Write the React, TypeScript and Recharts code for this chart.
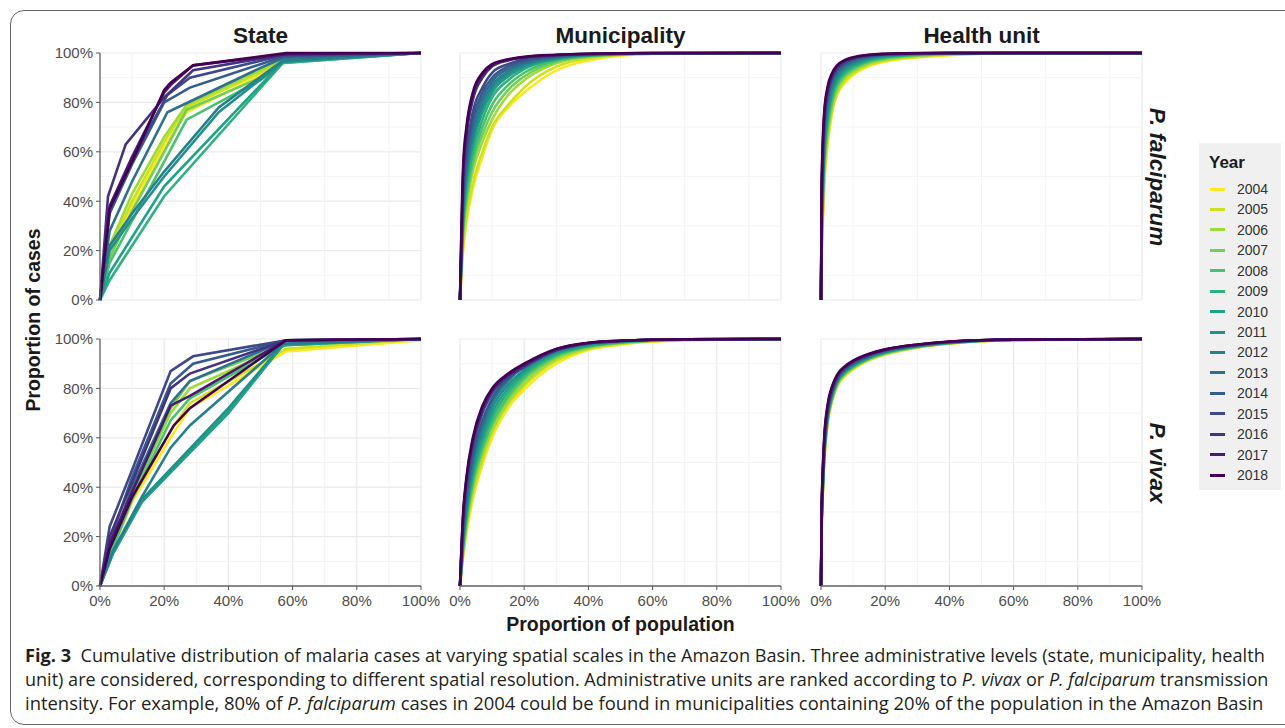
import React, { useLayoutEffect, useRef, useState } from "react"
import { LineChart, Line, XAxis, YAxis, CartesianGrid, ReferenceLine } from "recharts"

const years = [2004, 2005, 2006, 2007, 2008, 2009, 2010, 2011, 2012, 2013, 2014, 2015, 2016, 2017, 2018]
// viridis(15), reversed so 2004 is yellow
const yearColors = [
  "#FDE725", "#CFE11C", "#9FDA3A", "#71CF57", "#4AC16D", "#2DB27D", "#1FA187", "#21908C",
  "#277F8E", "#2E6E8E", "#365C8D", "#3F4889", "#46337E", "#481B6D", "#440154",
]

const majorTicks = [0, 0.2, 0.4, 0.6, 0.8, 1]
const minorTicks = [0.1, 0.3, 0.5, 0.7, 0.9]

type Pair = [number, number]

// State level: one list of (population share, case share) per year
const stateFalciparum: Pair[][] = [
  [[0, 0], [0.03, 0.18], [0.1, 0.38], [0.2, 0.62], [0.27, 0.76], [0.5, 0.91], [0.57, 0.97], [1, 1]],
  [[0, 0], [0.03, 0.2], [0.1, 0.4], [0.2, 0.64], [0.27, 0.78], [0.5, 0.92], [0.57, 0.97], [1, 1]],
  [[0, 0], [0.03, 0.22], [0.1, 0.43], [0.2, 0.66], [0.27, 0.79], [0.5, 0.93], [0.57, 0.975], [1, 1]],
  [[0, 0], [0.03, 0.17], [0.1, 0.36], [0.2, 0.6], [0.27, 0.77], [0.5, 0.9], [0.57, 0.97], [1, 1]],
  [[0, 0], [0.03, 0.15], [0.1, 0.32], [0.2, 0.56], [0.27, 0.73], [0.5, 0.89], [0.57, 0.96], [1, 1]],
  [[0, 0], [0.03, 0.08], [0.2, 0.42], [0.57, 0.96], [1, 1]],
  [[0, 0], [0.03, 0.11], [0.2, 0.46], [0.57, 0.965], [1, 1]],
  [[0, 0], [0.03, 0.2], [0.1, 0.33], [0.2, 0.5], [0.37, 0.76], [0.57, 0.965], [1, 1]],
  [[0, 0], [0.03, 0.22], [0.1, 0.35], [0.2, 0.52], [0.37, 0.78], [0.57, 0.97], [1, 1]],
  [[0, 0], [0.03, 0.28], [0.1, 0.48], [0.21, 0.76], [0.5, 0.94], [0.57, 0.98], [1, 1]],
  [[0, 0], [0.03, 0.35], [0.1, 0.55], [0.2, 0.8], [0.28, 0.86], [0.57, 0.985], [1, 1]],
  [[0, 0], [0.03, 0.36], [0.1, 0.57], [0.21, 0.83], [0.28, 0.9], [0.57, 0.99], [1, 1]],
  [[0, 0], [0.025, 0.42], [0.08, 0.63], [0.2, 0.82], [0.29, 0.93], [0.58, 0.995], [1, 1]],
  [[0, 0], [0.03, 0.38], [0.1, 0.58], [0.2, 0.84], [0.22, 0.87], [0.29, 0.95], [0.58, 0.995], [1, 1]],
  [[0, 0], [0.03, 0.37], [0.1, 0.56], [0.2, 0.85], [0.22, 0.88], [0.29, 0.95], [0.58, 1], [1, 1]],
]

const stateVivax: Pair[][] = [
  [[0, 0], [0.03, 0.12], [0.1, 0.34], [0.22, 0.6], [0.28, 0.72], [0.58, 0.95], [1, 0.995]],
  [[0, 0], [0.03, 0.12], [0.1, 0.35], [0.22, 0.63], [0.28, 0.74], [0.58, 0.96], [1, 1]],
  [[0, 0], [0.03, 0.13], [0.1, 0.37], [0.22, 0.7], [0.28, 0.8], [0.58, 0.975], [1, 1]],
  [[0, 0], [0.03, 0.13], [0.1, 0.36], [0.22, 0.72], [0.28, 0.83], [0.58, 0.98], [1, 1]],
  [[0, 0], [0.03, 0.12], [0.1, 0.35], [0.22, 0.67], [0.28, 0.76], [0.58, 0.98], [1, 1]],
  [[0, 0], [0.04, 0.13], [0.13, 0.34], [0.4, 0.71], [0.57, 0.975], [1, 1]],
  [[0, 0], [0.04, 0.13], [0.13, 0.34], [0.4, 0.7], [0.57, 0.975], [1, 1]],
  [[0, 0], [0.04, 0.14], [0.13, 0.35], [0.4, 0.72], [0.57, 0.98], [1, 1]],
  [[0, 0], [0.04, 0.14], [0.13, 0.36], [0.22, 0.56], [0.28, 0.65], [0.57, 0.98], [1, 1]],
  [[0, 0], [0.03, 0.15], [0.1, 0.4], [0.22, 0.74], [0.28, 0.83], [0.57, 0.99], [1, 1]],
  [[0, 0], [0.03, 0.18], [0.1, 0.44], [0.22, 0.82], [0.29, 0.9], [0.58, 0.995], [1, 1]],
  [[0, 0], [0.03, 0.24], [0.1, 0.47], [0.22, 0.87], [0.29, 0.93], [0.58, 0.995], [1, 1]],
  [[0, 0], [0.03, 0.2], [0.1, 0.42], [0.22, 0.8], [0.28, 0.86], [0.58, 0.995], [1, 1]],
  [[0, 0], [0.03, 0.17], [0.1, 0.38], [0.22, 0.73], [0.28, 0.77], [0.58, 0.995], [1, 1]],
  [[0, 0], [0.03, 0.15], [0.1, 0.36], [0.23, 0.65], [0.28, 0.72], [0.58, 0.995], [1, 1]],
]

// Municipality level: shared population shares, case shares per year
const munFalciparumX = [0, 0.01, 0.02, 0.04, 0.07, 0.1, 0.15, 0.2, 0.3, 0.4, 0.6, 1]
const munFalciparumY = [
  [0, 0.2, 0.31, 0.45, 0.58, 0.69, 0.78, 0.84, 0.93, 0.97, 0.996, 1],
  [0, 0.22, 0.33, 0.47, 0.6, 0.7, 0.79, 0.86, 0.945, 0.978, 0.997, 1],
  [0, 0.26, 0.38, 0.52, 0.64, 0.73, 0.83, 0.89, 0.958, 0.984, 0.997, 1],
  [0, 0.28, 0.4, 0.55, 0.67, 0.76, 0.85, 0.905, 0.965, 0.986, 0.998, 1],
  [0, 0.3, 0.42, 0.57, 0.7, 0.79, 0.87, 0.92, 0.97, 0.988, 0.998, 1],
  [0, 0.32, 0.45, 0.6, 0.73, 0.82, 0.89, 0.935, 0.974, 0.99, 0.998, 1],
  [0, 0.34, 0.48, 0.63, 0.76, 0.84, 0.905, 0.942, 0.977, 0.991, 0.998, 1],
  [0, 0.36, 0.5, 0.65, 0.78, 0.855, 0.915, 0.948, 0.98, 0.992, 0.999, 1],
  [0, 0.38, 0.52, 0.67, 0.8, 0.87, 0.925, 0.955, 0.982, 0.993, 0.999, 1],
  [0, 0.4, 0.54, 0.7, 0.82, 0.885, 0.935, 0.96, 0.985, 0.994, 0.999, 1],
  [0, 0.42, 0.57, 0.73, 0.84, 0.9, 0.945, 0.968, 0.988, 0.995, 0.999, 1],
  [0, 0.45, 0.6, 0.76, 0.86, 0.92, 0.955, 0.975, 0.99, 0.995, 0.999, 1],
  [0, 0.5, 0.66, 0.81, 0.9, 0.945, 0.97, 0.982, 0.992, 0.996, 1, 1],
  [0, 0.52, 0.68, 0.83, 0.91, 0.95, 0.972, 0.983, 0.992, 0.997, 1, 1],
  [0, 0.55, 0.7, 0.84, 0.92, 0.955, 0.975, 0.985, 0.993, 0.997, 1, 1],
]

const munVivaxX = [0, 0.01, 0.02, 0.04, 0.07, 0.1, 0.15, 0.2, 0.3, 0.4, 0.5, 0.7, 1]
const munVivaxY = [
  [0, 0.12, 0.21, 0.35, 0.49, 0.6, 0.72, 0.795, 0.9, 0.955, 0.977, 0.995, 1],
  [0, 0.13, 0.23, 0.37, 0.51, 0.62, 0.735, 0.81, 0.912, 0.96, 0.98, 0.996, 1],
  [0, 0.14, 0.24, 0.39, 0.53, 0.63, 0.745, 0.82, 0.92, 0.963, 0.983, 0.997, 1],
  [0, 0.15, 0.26, 0.41, 0.55, 0.65, 0.76, 0.835, 0.927, 0.967, 0.985, 0.997, 1],
  [0, 0.16, 0.27, 0.42, 0.56, 0.66, 0.77, 0.845, 0.932, 0.97, 0.986, 0.997, 1],
  [0, 0.17, 0.28, 0.44, 0.58, 0.68, 0.785, 0.855, 0.937, 0.972, 0.987, 0.998, 1],
  [0, 0.18, 0.3, 0.46, 0.6, 0.7, 0.8, 0.865, 0.942, 0.975, 0.989, 0.998, 1],
  [0, 0.19, 0.31, 0.48, 0.62, 0.72, 0.815, 0.875, 0.948, 0.978, 0.99, 0.998, 1],
  [0, 0.2, 0.33, 0.5, 0.64, 0.74, 0.83, 0.89, 0.955, 0.982, 0.992, 0.999, 1],
  [0, 0.22, 0.35, 0.52, 0.66, 0.755, 0.84, 0.895, 0.96, 0.984, 0.993, 0.999, 1],
  [0, 0.24, 0.37, 0.53, 0.67, 0.76, 0.84, 0.885, 0.952, 0.982, 0.992, 0.999, 1],
  [0, 0.26, 0.4, 0.56, 0.7, 0.78, 0.845, 0.89, 0.955, 0.983, 0.992, 0.999, 1],
  [0, 0.28, 0.42, 0.58, 0.71, 0.79, 0.85, 0.89, 0.955, 0.983, 0.992, 0.999, 1],
  [0, 0.29, 0.43, 0.59, 0.72, 0.795, 0.855, 0.895, 0.958, 0.984, 0.993, 0.999, 1],
  [0, 0.3, 0.44, 0.6, 0.73, 0.8, 0.86, 0.9, 0.96, 0.985, 0.993, 0.999, 1],
]

// Health unit level
const huFalciparumX = [0, 0.002, 0.005, 0.01, 0.02, 0.035, 0.05, 0.075, 0.1, 0.15, 0.2, 0.3, 0.4, 0.6, 1]
const huFalciparumY = [
  [0, 0.15, 0.29, 0.46, 0.62, 0.76, 0.83, 0.88, 0.91, 0.947, 0.965, 0.982, 0.991, 0.999, 1],
  [0, 0.17, 0.31, 0.48, 0.64, 0.77, 0.835, 0.89, 0.917, 0.952, 0.969, 0.985, 0.993, 0.999, 1],
  [0, 0.19, 0.34, 0.51, 0.66, 0.79, 0.85, 0.9, 0.925, 0.958, 0.974, 0.988, 0.995, 0.999, 1],
  [0, 0.21, 0.36, 0.53, 0.68, 0.8, 0.86, 0.907, 0.932, 0.962, 0.977, 0.99, 0.996, 0.999, 1],
  [0, 0.23, 0.39, 0.56, 0.7, 0.815, 0.87, 0.915, 0.938, 0.967, 0.98, 0.992, 0.997, 1, 1],
  [0, 0.25, 0.41, 0.58, 0.72, 0.83, 0.88, 0.922, 0.944, 0.971, 0.983, 0.994, 0.998, 1, 1],
  [0, 0.27, 0.43, 0.6, 0.74, 0.84, 0.89, 0.93, 0.95, 0.975, 0.986, 0.995, 0.998, 1, 1],
  [0, 0.29, 0.46, 0.63, 0.76, 0.855, 0.9, 0.938, 0.957, 0.979, 0.989, 0.996, 0.999, 1, 1],
  [0, 0.31, 0.48, 0.65, 0.78, 0.87, 0.91, 0.945, 0.963, 0.982, 0.991, 0.997, 0.999, 1, 1],
  [0, 0.33, 0.5, 0.67, 0.8, 0.88, 0.92, 0.952, 0.968, 0.985, 0.993, 0.998, 1, 1, 1],
  [0, 0.35, 0.52, 0.69, 0.81, 0.89, 0.928, 0.958, 0.972, 0.987, 0.994, 0.998, 1, 1, 1],
  [0, 0.37, 0.55, 0.71, 0.83, 0.9, 0.935, 0.962, 0.976, 0.989, 0.995, 0.999, 1, 1, 1],
  [0, 0.4, 0.58, 0.73, 0.84, 0.905, 0.94, 0.966, 0.979, 0.991, 0.996, 0.999, 1, 1, 1],
  [0, 0.42, 0.6, 0.75, 0.85, 0.915, 0.945, 0.97, 0.981, 0.992, 0.996, 0.999, 1, 1, 1],
  [0, 0.45, 0.62, 0.76, 0.86, 0.92, 0.95, 0.972, 0.983, 0.993, 0.997, 1, 1, 1, 1],
]

const huVivaxX = [0, 0.002, 0.005, 0.01, 0.02, 0.035, 0.05, 0.075, 0.1, 0.15, 0.2, 0.3, 0.4, 0.6, 1]
const huVivaxY = [
  [0, 0.22, 0.35, 0.5, 0.65, 0.75, 0.807, 0.85, 0.877, 0.914, 0.937, 0.965, 0.981, 0.996, 1],
  [0, 0.22, 0.35, 0.5, 0.655, 0.752, 0.81, 0.853, 0.88, 0.916, 0.938, 0.966, 0.982, 0.996, 1],
  [0, 0.23, 0.36, 0.51, 0.66, 0.757, 0.813, 0.857, 0.882, 0.918, 0.94, 0.967, 0.983, 0.996, 1],
  [0, 0.24, 0.37, 0.52, 0.665, 0.76, 0.817, 0.86, 0.885, 0.92, 0.942, 0.968, 0.983, 0.996, 1],
  [0, 0.24, 0.37, 0.52, 0.67, 0.765, 0.82, 0.862, 0.887, 0.921, 0.943, 0.969, 0.984, 0.996, 1],
  [0, 0.25, 0.38, 0.53, 0.675, 0.77, 0.823, 0.865, 0.89, 0.923, 0.945, 0.97, 0.984, 0.997, 1],
  [0, 0.25, 0.39, 0.54, 0.68, 0.775, 0.827, 0.868, 0.892, 0.925, 0.946, 0.971, 0.985, 0.997, 1],
  [0, 0.26, 0.39, 0.54, 0.685, 0.778, 0.83, 0.871, 0.895, 0.927, 0.948, 0.972, 0.986, 0.997, 1],
  [0, 0.26, 0.4, 0.55, 0.69, 0.783, 0.833, 0.874, 0.897, 0.929, 0.95, 0.973, 0.986, 0.997, 1],
  [0, 0.27, 0.41, 0.56, 0.7, 0.787, 0.837, 0.877, 0.9, 0.931, 0.951, 0.974, 0.987, 0.997, 1],
  [0, 0.27, 0.41, 0.56, 0.7, 0.79, 0.84, 0.88, 0.903, 0.933, 0.953, 0.975, 0.988, 0.997, 1],
  [0, 0.28, 0.42, 0.57, 0.71, 0.795, 0.843, 0.882, 0.905, 0.935, 0.955, 0.976, 0.988, 0.998, 1],
  [0, 0.28, 0.43, 0.58, 0.715, 0.8, 0.847, 0.885, 0.908, 0.937, 0.956, 0.977, 0.989, 0.998, 1],
  [0, 0.29, 0.44, 0.59, 0.72, 0.805, 0.85, 0.887, 0.91, 0.938, 0.957, 0.977, 0.989, 0.998, 1],
  [0, 0.3, 0.45, 0.6, 0.73, 0.81, 0.855, 0.89, 0.912, 0.94, 0.958, 0.978, 0.99, 0.998, 1],
]

type Pt = { x: number; y: number }
const fromPairs = (list: Pair[][]): Pt[][] => list.map((s) => s.map(([x, y]) => ({ x, y })))
const fromColumns = (xs: number[], ys: number[][]): Pt[][] => ys.map((row) => row.map((y, i) => ({ x: xs[i], y })))

const PLOT_W = 321
const PLOT_H = 247
const colX = [100, 460, 821]
const rowY = [53, 339]
const pct = (v: number) => `${Math.round(v * 100)}%`
const sans = "'Liberation Sans', Arial, Helvetica, sans-serif"
const tickStyle = { fill: "#4d4d4d", fontSize: 15, fontFamily: sans }

function Panel({ series, col, row, smooth }: { series: Pt[][]; col: number; row: number; smooth: boolean }) {
  const showY = col === 0
  const showX = row === 1
  const yW = showY ? 60 : 0
  const xH = showX ? 30 : 0
  const top = 12
  const bottom = showX ? 0 : 12
  const left = 24
  const right = 24
  return (
    <div style={{ position: "absolute", left: colX[col] - yW - left, top: rowY[row] - top }}>
      <LineChart
        width={left + yW + PLOT_W + right}
        height={top + PLOT_H + xH + bottom}
        margin={{ top, right, bottom, left }}
      >
        <CartesianGrid stroke="#e9e9e9" strokeWidth={1.2} />
        {minorTicks.map((t) => (
          <ReferenceLine key={`mx${t}`} x={t} stroke="#f2f2f2" strokeWidth={0.9} />
        ))}
        {minorTicks.map((t) => (
          <ReferenceLine key={`my${t}`} y={t} stroke="#f2f2f2" strokeWidth={0.9} />
        ))}
        <XAxis
          type="number"
          dataKey="x"
          domain={[0, 1]}
          ticks={majorTicks}
          tickFormatter={pct}
          height={xH}
          tick={showX ? tickStyle : false}
          tickLine={showX ? { stroke: "#555" } : false}
          tickSize={4}
          tickMargin={5}
          axisLine={{ stroke: "#666", strokeWidth: 1.3 }}
          interval={0}
        />
        <YAxis
          type="number"
          domain={[0, 1]}
          ticks={majorTicks}
          tickFormatter={pct}
          width={yW}
          tick={showY ? tickStyle : false}
          tickLine={showY ? { stroke: "#555" } : false}
          tickSize={4}
          tickMargin={3}
          axisLine={{ stroke: "#666", strokeWidth: 1.3 }}
          interval={0}
        />
        {series.map((pts, i) => (
          <Line
            key={years[i]}
            data={pts}
            dataKey="y"
            type={smooth ? "monotone" : "linear"}
            stroke={yearColors[i]}
            strokeWidth={2.6}
            dot={false}
            activeDot={false}
            isAnimationActive={false}
          />
        ))}
      </LineChart>
    </div>
  )
}

// one caption line, squeezed horizontally to the width it has in the figure
function CaptionLine({ top, width, children }: { top: number; width: number; children: React.ReactNode }) {
  const ref = useRef<HTMLDivElement>(null)
  const [scale, setScale] = useState(1)
  useLayoutEffect(() => {
    if (ref.current) setScale(width / ref.current.scrollWidth)
  }, [width])
  return (
    <div
      ref={ref}
      style={{
        position: "absolute",
        left: 25,
        top,
        whiteSpace: "nowrap",
        fontFamily: "'Open Sans', 'Noto Sans', sans-serif",
        fontSize: 18.5,
        lineHeight: "24px",
        color: "#231f20",
        transform: `scaleX(${scale})`,
        transformOrigin: "0 0",
      }}
    >
      {children}
    </div>
  )
}

const columnTitles = ["State", "Municipality", "Health unit"]
const rowTitles = ["P. falciparum", "P. vivax"]

export default function App() {
  const panels = [
    { series: fromPairs(stateFalciparum), col: 0, row: 0, smooth: false },
    { series: fromColumns(munFalciparumX, munFalciparumY), col: 1, row: 0, smooth: true },
    { series: fromColumns(huFalciparumX, huFalciparumY), col: 2, row: 0, smooth: true },
    { series: fromPairs(stateVivax), col: 0, row: 1, smooth: false },
    { series: fromColumns(munVivaxX, munVivaxY), col: 1, row: 1, smooth: true },
    { series: fromColumns(huVivaxX, huVivaxY), col: 2, row: 1, smooth: true },
  ]
  const bold = { fontFamily: sans, fontWeight: 700, color: "#1a1a1a", whiteSpace: "nowrap" as const }
  return (
    <div style={{ position: "absolute", left: 0, top: 0, width: 1285, height: 728, overflow: "hidden", background: "#fff" }}>
      <div
        style={{
          position: "absolute",
          left: 10,
          top: 10,
          width: 1320,
          height: 713,
          border: "1.4px solid #666",
          borderRadius: 14,
        }}
      />
      {panels.map((p) => (
        <Panel key={`${p.col}-${p.row}`} {...p} />
      ))}

      {columnTitles.map((t, i) => (
        <div
          key={t}
          style={{ ...bold, position: "absolute", left: colX[i], width: PLOT_W, top: 22, textAlign: "center", fontSize: 22.5, lineHeight: "28px" }}
        >
          {t}
        </div>
      ))}
      {rowTitles.map((t, i) => (
        <div
          key={t}
          style={{
            ...bold,
            position: "absolute",
            left: 1157,
            top: rowY[i] + PLOT_H / 2,
            fontSize: 22.5,
            fontStyle: "italic",
            lineHeight: "26px",
            transform: "translate(-50%, -50%) rotate(90deg)",
          }}
        >
          {t}
        </div>
      ))}
      <div
        style={{ ...bold, position: "absolute", left: 33, top: 320, fontSize: 19.5, lineHeight: "24px", transform: "translate(-50%, -50%) rotate(-90deg)" }}
      >
        Proportion of cases
      </div>
      <div style={{ ...bold, position: "absolute", left: 460, width: PLOT_W, top: 612, textAlign: "center", fontSize: 19.5, lineHeight: "24px" }}>
        Proportion of population
      </div>

      <div style={{ position: "absolute", left: 1199, top: 143, width: 82, height: 347, background: "#f0f0f0" }}>
        <div style={{ ...bold, position: "absolute", left: 10, top: 9, fontSize: 17, lineHeight: "22px" }}>Year</div>
        {years.map((y, i) => (
          <div key={y} style={{ position: "absolute", left: 0, top: 36 + i * 20.43, height: 20, width: 82 }}>
            <div style={{ position: "absolute", left: 11, top: 8.5, width: 15, height: 3, background: yearColors[i] }} />
            <div style={{ position: "absolute", left: 38, top: 0, fontFamily: sans, fontSize: 14, lineHeight: "20px", color: "#333" }}>{y}</div>
          </div>
        ))}
      </div>

      <CaptionLine top={643} width={1240}>
        <b>Fig. 3</b>
        {"\u00a0 Cumulative distribution of malaria cases at varying spatial scales in the Amazon Basin. Three administrative levels (state, municipality, health"}
      </CaptionLine>
      <CaptionLine top={667} width={1243}>
        {"unit) are considered, corresponding to different spatial resolution. Administrative units are ranked according to "}
        <i>P. vivax</i>
        {" or "}
        <i>P. falciparum</i>
        {" transmission"}
      </CaptionLine>
      <CaptionLine top={691} width={1238}>
        {"intensity. For example, 80% of "}
        <i>P. falciparum</i>
        {" cases in 2004 could be found in municipalities containing 20% of the population in the Amazon Basin"}
      </CaptionLine>
    </div>
  )
}
